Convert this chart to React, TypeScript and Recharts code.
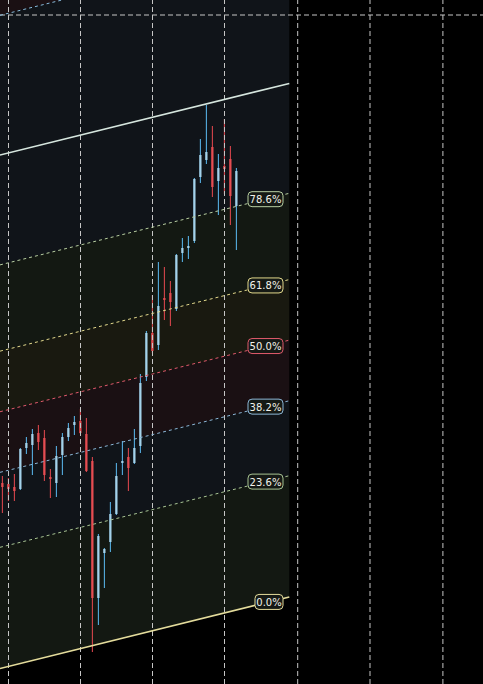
import {
  Area,
  Bar,
  ComposedChart,
  Line,
  ReferenceDot,
  ReferenceLine,
  XAxis,
  YAxis,
} from "recharts";

const WIDTH = 483;
const HEIGHT = 684;
const X_MIN = -0.4167;
const X_MAX = 80.0833;
const Y_MIN = 100;
const Y_MAX = 168.4;
const PX_PER_INDEX = WIDTH / (X_MAX - X_MIN);

// candles, one per index
const OPEN = [120.1, 120.0, 119.7, 119.5, 123.6, 123.9, 125.1, 124.6, 120.7, 120.1, 122.9, 124.7, 125.9, 126.3, 125.0, 122.3, 108.6, 113.1, 114.2, 117.0, 122.1, 122.7, 122.1, 123.8, 130.7, 135.1, 133.9, 138.6, 139.1, 137.5, 143.1, 143.6, 144.3, 150.7, 152.4, 153.7, 150.3, 151.8, 152.5, 147.8];
const HIGH = [120.8, 120.6, 121.0, 123.6, 124.7, 125.5, 125.9, 125.4, 121.5, 123.8, 125.1, 126.1, 126.8, 127.5, 126.6, 122.7, 115.0, 113.6, 118.2, 122.1, 124.3, 123.6, 125.5, 131.0, 135.3, 138.9, 142.2, 141.7, 140.3, 143.0, 144.6, 144.8, 150.6, 154.5, 157.9, 155.8, 153.0, 156.5, 153.8, 151.6];
const LOW = [117.1, 118.3, 118.3, 119.4, 123.0, 120.9, 123.4, 120.3, 118.6, 118.7, 120.9, 124.3, 124.9, 125.0, 121.2, 103.2, 105.9, 109.6, 113.2, 116.9, 120.9, 119.3, 122.0, 123.1, 130.3, 133.1, 133.4, 136.4, 135.8, 137.3, 142.2, 142.5, 144.1, 150.1, 152.0, 148.7, 146.9, 149.0, 145.9, 143.4];
const CLOSE = [119.7, 119.5, 119.3, 123.5, 124.1, 125.0, 124.2, 120.9, 120.5, 122.8, 124.7, 125.6, 126.2, 125.1, 121.3, 108.6, 114.8, 113.5, 117.0, 120.8, 122.3, 121.6, 123.6, 130.1, 135.1, 133.3, 137.8, 138.4, 138.2, 142.9, 143.6, 143.8, 150.5, 152.9, 153.2, 149.7, 151.6, 151.5, 148.8, 151.3];

// fib channel: 0% line from start to end, levels offset by range
const CHANNEL_X = [-0.42, 47.8];
const CHANNEL_BASE = [101.55, 108.71];
const CHANNEL_RANGE = 51.35;
const LABEL_RIGHT = 46.75;

const LEVELS = [0, 0.236, 0.382, 0.5, 0.618, 0.786, 1, 1.272];
const LEVEL_LABELS = ["0.0%", "23.6%", "38.2%", "50.0%", "61.8%", "78.6%", "", ""];
const LEVEL_COLORS = ["#e4dc9c", "#a8c494", "#8cb8d8", "#e05a6c", "#e2d88c", "#b8cfa2", "#d6e6de", "#88bcdc"];
const LEVEL_DASH = ["", "3 3", "3 3", "3 3", "3 3", "3 3", "", "3 3"];
const BAND_COLORS = [
  "rgba(170,220,160,0.11)",
  "rgba(150,180,230,0.11)",
  "rgba(240,150,170,0.11)",
  "rgba(230,230,150,0.11)",
  "rgba(170,220,160,0.11)",
  "rgba(150,180,230,0.11)",
  "rgba(150,180,230,0.11)",
  "rgba(240,150,170,0.11)",
];
const BAND_TOP = 1.8;

const GRID_X = [1, 13, 25, 37, 49.2, 61.25, 73.4];
const GRID_Y = [166.9];

const candles = OPEN.map((open, i) => ({
  x: i,
  open,
  high: HIGH[i],
  low: LOW[i],
  close: CLOSE[i],
}));

const levelAt = (level: number, x: number) =>
  CHANNEL_BASE[0] +
  ((CHANNEL_BASE[1] - CHANNEL_BASE[0]) * (x - CHANNEL_X[0])) /
    (CHANNEL_X[1] - CHANNEL_X[0]) +
  level * CHANNEL_RANGE;

const bands = LEVELS.map((lo, k) => {
  const hi = k + 1 < LEVELS.length ? LEVELS[k + 1] : BAND_TOP;
  return CHANNEL_X.map((x) => ({ x, band: [levelAt(lo, x), levelAt(hi, x)] }));
});

const levelLines = LEVELS.map((l) =>
  CHANNEL_X.map((x) => ({ x, v: levelAt(l, x) }))
);

const Candle = (props: any) => {
  const { x, y, width, height, payload } = props;
  const { open, close, high, low } = payload;
  const up = close >= open;
  const ratio = high === low ? 0 : height / (high - low);
  const yOf = (v: number) => y + (high - v) * ratio;
  const top = yOf(Math.max(open, close));
  const bot = yOf(Math.min(open, close));
  const cx = x + width / 2;
  return (
    <g>
      <line
        x1={cx}
        x2={cx}
        y1={y}
        y2={y + height}
        stroke={up ? "#5cbcf4" : "#e84a50"}
        strokeWidth={1}
      />
      <rect
        x={x}
        y={top}
        width={width}
        height={Math.max(1.5, bot - top)}
        fill={up ? "#a4d2ea" : "#e64d52"}
      />
    </g>
  );
};

const tagWidth = (text: string) => text.length * 7;

const LevelTag = (props: any) => {
  const { cx, cy, text, color } = props;
  const w = tagWidth(text);
  return (
    <g>
      <rect
        x={cx - w / 2}
        y={cy - 7.5}
        width={w}
        height={15}
        rx={4}
        fill="#151915"
        stroke={color}
        strokeWidth={1}
      />
      <text
        x={cx}
        y={cy + 0.5}
        textAnchor="middle"
        dominantBaseline="central"
        fontFamily="DejaVu Sans"
        fontSize={10}
        fill="#f2f2ea"
      >
        {text}
      </text>
    </g>
  );
};

export default function App() {
  return (
    <div
      style={{
        position: "absolute",
        left: 0,
        top: 0,
        width: WIDTH,
        height: HEIGHT,
        background: "#000",
      }}
    >
      <ComposedChart
        width={WIDTH}
        height={HEIGHT}
        data={candles}
        margin={{ top: 0, right: 0, bottom: 0, left: 0 }}
      >
        <XAxis
          type="number"
          dataKey="x"
          domain={[X_MIN, X_MAX]}
          allowDataOverflow
          hide
        />
        <YAxis
          type="number"
          domain={[Y_MIN, Y_MAX]}
          allowDataOverflow
          hide
        />
        {GRID_X.map((v) => (
          <ReferenceLine
            key={`gx-${v}`}
            x={v}
            stroke="#c6c6c6"
            strokeDasharray="5 3"
          />
        ))}
        {GRID_Y.map((v) => (
          <ReferenceLine
            key={`gy-${v}`}
            y={v}
            stroke="#c6c6c6"
            strokeDasharray="5 3"
          />
        ))}
        <Bar
          dataKey={(d: any) => [d.low, d.high]}
          barSize={5}
          shape={Candle}
          isAnimationActive={false}
        />
        {bands.map((data, k) => (
          <Area
            key={`band-${k}`}
            data={data}
            dataKey="band"
            type="linear"
            stroke="none"
            fill={BAND_COLORS[k]}
            fillOpacity={1}
            isAnimationActive={false}
          />
        ))}
        {levelLines.map((data, k) => (
          <Line
            key={`level-${k}`}
            data={data}
            dataKey="v"
            type="linear"
            stroke={LEVEL_COLORS[k]}
            strokeWidth={LEVEL_DASH[k] ? 1 : 1.5}
            strokeDasharray={LEVEL_DASH[k] || undefined}
            dot={false}
            activeDot={false}
            isAnimationActive={false}
          />
        ))}
        {LEVELS.map((l, k) => {
          const text = LEVEL_LABELS[k];
          if (!text) return null;
          const cxIndex = LABEL_RIGHT - tagWidth(text) / 2 / PX_PER_INDEX;
          return (
            <ReferenceDot
              key={`tag-${k}`}
              x={cxIndex}
              y={levelAt(l, cxIndex)}
              r={0}
              shape={(p: any) => (
                <LevelTag cx={p.cx} cy={p.cy} text={text} color={LEVEL_COLORS[k]} />
              )}
            />
          );
        })}
      </ComposedChart>
    </div>
  );
}
